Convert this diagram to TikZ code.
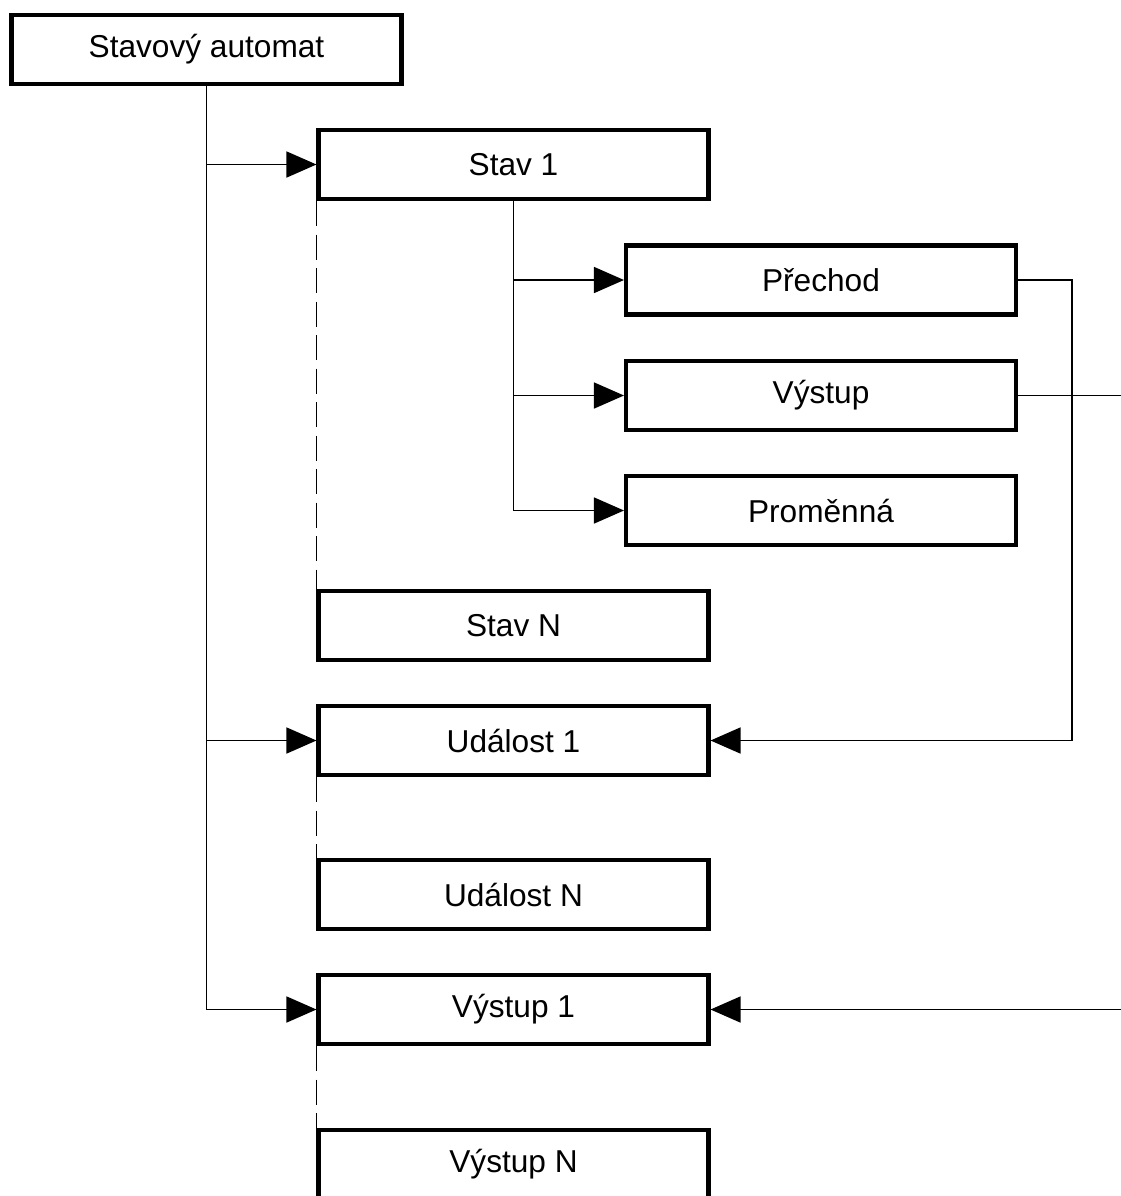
\documentclass[tikz,border=0pt]{standalone}
\usepackage{fontspec}
\setmainfont{Liberation Sans}
\usepackage{tikz}
\usetikzlibrary{arrows.meta,calc}

\tikzset{
  box/.style={draw, line width=2.3pt, minimum width=7.8cm, minimum height=1.38cm,
    inner sep=0pt, font=\fontsize{18}{22}\selectfont},
  link/.style={line width=0.85pt},
  arr/.style={link, -{Triangle[length=0.6cm, width=0.52cm]}},
  dots/.style={line width=0.85pt, dash pattern=on 0.5cm off 0.17cm}
}

\begin{document}
\begin{tikzpicture}
\useasboundingbox (0cm,0cm) rectangle (22.42cm,-23.92cm);
\clip (0cm,0cm) rectangle (22.42cm,-23.92cm);
% hlavni uzel
\node[box] (sa) at (4.13cm,-0.99cm) {Stavový automat};
% stavy
\node[box] (s1) at (10.27cm,-3.29cm) {Stav 1};
\node[box] (pr) at (16.42cm,-5.60cm) {Přechod};
\node[box] (vy) at (16.42cm,-7.91cm) {Výstup};
\node[box] (pm) at (16.42cm,-10.21cm) {Proměnná};
\node[box] (sn) at (10.27cm,-12.51cm) {Stav N};
% udalosti
\node[box] (u1) at (10.27cm,-14.81cm) {Událost 1};
\node[box] (un) at (10.27cm,-17.89cm) {Událost N};
% vystupy
\node[box] (v1) at (10.27cm,-20.19cm) {Výstup 1};
\node[box] (vn) at (10.27cm,-23.29cm) {Výstup N};
\coordinate (kink) at (21.44cm,-14.81cm);
\coordinate (vyout) at (22.42cm,-7.91cm);
\coordinate (v1in) at (22.42cm,-20.19cm);

\draw[arr] (sa.south) |- (s1.west);
\draw[arr] (sa.south) |- (u1.west);
\draw[arr] (sa.south) |- (v1.west);
\draw[arr] (s1.south) |- (pr.west);
\draw[arr] (s1.south) |- (vy.west);
\draw[arr] (s1.south) |- (pm.west);
\draw[dots] (s1.south west) -- (sn.north west);
\draw[dots] (u1.south west) -- (un.north west);
\draw[dots] (v1.south west) -- (vn.north west);
\draw[arr] (pr.east) -| (kink) -- (u1.east);
\draw[link] (vy.east) -- (vyout);
\draw[arr] (v1in) -- (v1.east);
\end{tikzpicture}
\end{document}
